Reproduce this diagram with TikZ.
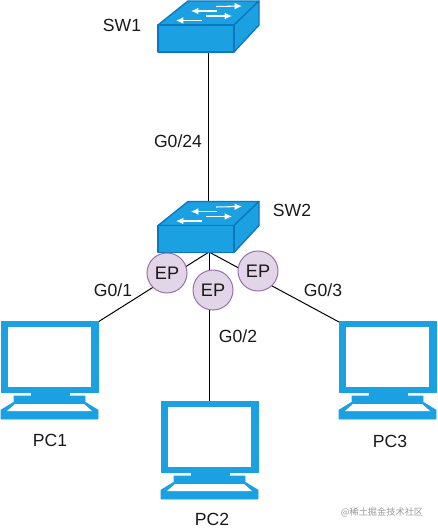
\documentclass[tikz,border=0pt]{standalone}
\usepackage{fontspec}
\setmainfont{Liberation Sans}
\newfontfamily\cjkfont{Noto Sans CJK SC}
\definecolor{netblue}{HTML}{1BA1E2}
\definecolor{netedge}{HTML}{0A78BE}
\definecolor{epfill}{HTML}{E1D5E7}
\definecolor{epedge}{HTML}{9673A6}
\tikzset{
  x=0.75pt,y=-0.75pt,
  wire/.style={draw=black,line width=0.75pt},
  lab/.style={font=\fontsize{13.2pt}{15pt}\selectfont,text=black!90,inner sep=0pt},
  epnode/.style={circle,draw=epedge,fill=epfill,line width=0.75pt,minimum size=30pt,inner sep=0pt,font=\fontsize{13.6pt}{15pt}\selectfont,text=black!90},
  swface/.style={fill=netblue,draw=netedge,line width=1pt,line join=round},
  swarrow/.style={draw=white,line width=0.8pt,-{Latex[length=5.5pt,width=5pt]}},
  pcpart/.style={fill=netblue,draw=netblue,line width=0.4pt,line join=round},
  pchole/.style={fill=white,draw=none},
  pics/switchicon/.style={code={
    \path[swface] (0,0) -- (30,-24) -- (101,-24) -- (76,0) -- cycle;
    \path[swface] (76,0) -- (101,-24) -- (101,0) -- (76,27) -- cycle;
    \path[swface] (0,0) rectangle (76,27);
    \draw[swarrow] (58,-18.5) -- (84,-19);
    \draw[swarrow] (59,-14) -- (33,-14);
    \draw[swarrow] (48,-9) -- (74,-9);
    \draw[swarrow] (44,-4.5) -- (18,-4.5);
  }},
  pics/pcicon/.style={code={
    \path[pcpart,even odd rule] (0,0) rectangle (97,71) (6.5,5) rectangle (90,66);
    \path[pcpart] (30,71) rectangle (68,75);
    \path[pcpart] (13,75) -- (84,75) -- (84,81) -- (97,89) -- (97,98) -- (0,98) -- (0,89) -- (13,81) -- cycle;
    \path[pchole] (14,83) -- (83,83) -- (91,90) -- (6,90) -- cycle;
  }},
}
\usetikzlibrary{arrows.meta}
\begin{document}
\begin{tikzpicture}
\useasboundingbox (0,0) rectangle (437,532);
% anchors on the device icons
\coordinate (sw1) at (208,52);
\coordinate (sw2top) at (208,226);
\coordinate (sw2) at (209,252);
\coordinate (pc1) at (98,322);
\coordinate (pc2) at (209,401);
\coordinate (pc3) at (339,322);
% connectors
\draw[wire] (sw1) -- (sw2top);
\draw[wire] (sw2) -- (pc1);
\draw[wire] (sw2) -- (pc2);
\draw[wire] (sw2) -- (pc3);
% icons
\pic at (158,25) {switchicon};
\pic at (158,225.5) {switchicon};
\pic at (1,321) {pcicon};
\pic at (161,401) {pcicon};
\pic at (339,321) {pcicon};
% tags
\node[epnode] (ep1) at (167,273) {EP};
\node[epnode] (ep2) at (213,290) {EP};
\node[epnode] (ep3) at (258,271) {EP};
% labels
\node[lab] (lsw1) at (122,25) {SW1};
\node[lab] (lsw2) at (292,210) {SW2};
\node[lab] (lg24) at (178,141) {G0/24};
\node[lab] (lg1) at (113,290) {G0/1};
\node[lab] (lg2) at (238,336) {G0/2};
\node[lab] (lg3) at (323,290) {G0/3};
\node[lab] (lpc1) at (50,440) {PC1};
\node[lab] (lpc2) at (212,519) {PC2};
\node[lab] (lpc3) at (390,441) {PC3};
\node[inner sep=0pt,text=black!40,font=\cjkfont\fontsize{6.9pt}{8pt}\selectfont] (mark) at (382,512.5) {@稀土掘金技术社区};
\end{tikzpicture}
\end{document}
